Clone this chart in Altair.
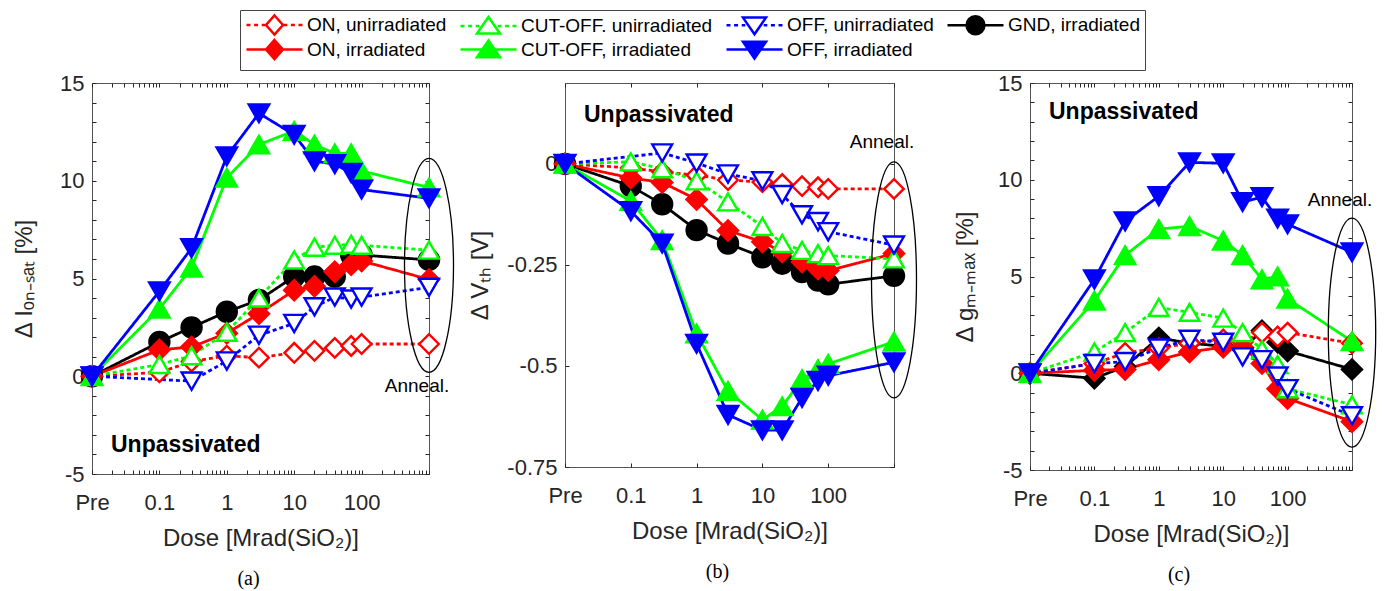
import altair as alt
import pandas as pd

FONT = "Liberation Sans, Arial, Helvetica, sans-serif"
SERIF = "Liberation Serif, Times New Roman, serif"
INK = "#262626"
RED, GREEN, BLUE, BLACK = "#ff0000", "#00ff00", "#0000ff", "#000000"

# ---------------- data ----------------
dose = [0.01, 0.1, 0.3, 1, 3, 10, 20, 40, 70, 100, 1000]   # 0.01 = "Pre", 1000 = "Anneal."
x_major = [0.01, 0.1, 1, 10, 100, 1000]
x_minor = [k * 10.0 ** d for d in range(-2, 3) for k in range(2, 10)]

legend_order = ["ON, unirradiated", "CUT-OFF. unirradiated", "OFF, unirradiated", "GND, irradiated",
                "ON, irradiated", "CUT-OFF, irradiated", "OFF, irradiated"]
draw_order = ["GND, irradiated", "ON, unirradiated", "ON, irradiated", "CUT-OFF. unirradiated",
              "CUT-OFF, irradiated", "OFF, unirradiated", "OFF, irradiated"]

ion_sat = {
    "ON, unirradiated":      [0, 0.2, 0.75, 1.05, 0.95, 1.2, 1.3, 1.45, 1.55, 1.65, 1.65],
    "ON, irradiated":        [0, 1.35, 1.5, 2.2, 3.2, 4.4, 4.6, 5.35, 5.7, 5.9, 4.95],
    "CUT-OFF. unirradiated": [0, 0.6, 1.05, 2.25, 4.0, 5.95, 6.6, 6.7, 6.75, 6.7, 6.45],
    "CUT-OFF, irradiated":   [0, 3.45, 5.55, 10.15, 11.85, 12.55, 11.85, 11.4, 11.4, 10.5, 9.65],
    "OFF, unirradiated":     [0, None, -0.25, 0.78, 2.1, 2.7, 3.55, 4.05, 3.95, 4.05, 4.55],
    "OFF, irradiated":       [0, 4.35, 6.55, 11.25, 13.45, 12.35, 11.0, 10.85, 10.4, 9.55, 9.1],
    "GND, irradiated":       [0, 1.75, 2.5, 3.3, 3.9, 5.1, 5.1, 5.1, 6.2, 6.2, 5.95],
}
vth = {
    "ON, unirradiated":      [0, -0.01, -0.02, -0.028, -0.04, -0.045, -0.05, -0.055, -0.058, -0.062, -0.062],
    "ON, irradiated":        [0, -0.035, -0.046, -0.088, -0.165, -0.193, -0.218, -0.243, -0.26, -0.264, -0.222],
    "CUT-OFF. unirradiated": [0, 0.005, -0.012, -0.042, -0.094, -0.155, -0.197, -0.214, -0.222, -0.227, -0.235],
    "CUT-OFF, irradiated":   [0, -0.092, -0.189, -0.42, -0.562, -0.633, -0.6, -0.533, -0.508, -0.495, -0.44],
    "OFF, unirradiated":     [0, None, 0.027, 0.002, -0.025, -0.042, -0.076, -0.126, -0.143, -0.168, -0.201],
    "OFF, irradiated":       [0, -0.117, -0.197, -0.445, -0.621, -0.659, -0.659, -0.579, -0.537, -0.524, -0.491],
    "GND, irradiated":       [0, -0.055, -0.1, -0.164, -0.197, -0.231, -0.247, -0.268, -0.289, -0.298, -0.277],
}
gm_max = {
    "ON, unirradiated":      [0, 0.5, 1.05, 1.3, 1.55, 1.75, 1.6, 2.1, 1.9, 2.1, 1.55],
    "ON, irradiated":        [0, 0.15, 0.2, 0.7, 1.1, 1.35, 1.35, 0.5, -0.8, -1.3, -2.5],
    "CUT-OFF. unirradiated": [0, 1.1, 2.1, 3.4, 3.15, 2.85, 2.1, 1.22, 0.45, -0.8, -1.63],
    "CUT-OFF, irradiated":   [0, 3.75, 6.1, 7.45, 7.6, 6.85, 6.1, 4.85, 5.0, 3.85, 1.65],
    "OFF, unirradiated":     [0, 0.5, 0.6, 1.3, 1.75, 1.6, 0.85, 0.7, -0.15, -0.8, -2.2],
    "OFF, irradiated":       [0, 4.85, 7.85, 9.15, 10.9, 10.85, 8.85, 9.1, 8.0, 7.7, 6.25],
    "GND, irradiated":       [0, -0.26, 0.35, 1.83, 1.55, 1.4, 1.25, 2.2, 1.6, 1.15, 0.2],
}

# annotation values (data coordinates)
ellipse_center = {"a": 5.67, "b": -0.287, "c": 2.1}
ellipse_half = {"a": 5.47, "b": 0.292, "c": 5.92}
ellipse_halfwidth_px = {"a": 24.5, "b": 22.5, "c": 23.7}
anneal_y = {"a": -0.5, "b": 0.055, "c": 8.96}
unpass_y = {"a": -3.54, "b": 0.121, "c": 13.5}

# ---------------- styles ----------------
color_scale = alt.Scale(domain=legend_order, range=[RED, GREEN, BLUE, BLACK, RED, GREEN, BLUE])
fill_scale = alt.Scale(domain=legend_order, range=["white", "white", "white", BLACK, RED, GREEN, BLUE])
dash_scale = alt.Scale(domain=legend_order, range=[[4, 3], [4, 3], [4, 3], [1, 0], [1, 0], [1, 0], [1, 0]])
size_scale = alt.Scale(domain=legend_order, range=[380, 420, 420, 280, 380, 420, 420])
shape_ab = alt.Scale(domain=legend_order, range=["diamond", "triangle-up", "triangle-down", "circle",
                                                 "diamond", "triangle-up", "triangle-down"])
shape_c = alt.Scale(domain=legend_order, range=["diamond", "triangle-up", "triangle-down", "diamond",
                                                "diamond", "triangle-up", "triangle-down"])

# legend symbols: line + marker as custom paths (unit = 8 px)
DOT = ("M-1,0L-0.5,0M-0.05,0L0.45,0M0.9,0L1.35,0"
       "M3.65,0L4.1,0M4.55,0L5.05,0M5.5,0L6,0")
SOLID = "M-1,0L6,0"
DIAM = "M2.5,-1.19L3.56,0L2.5,1.19L1.44,0Z"
TUP = "M2.5,-1.12L3.94,0.96L1.06,0.96Z"
TDN = "M2.5,1.12L3.94,-0.96L1.06,-0.96Z"
CIRC = ("M2.5,-1.12C3.12,-1.12 3.62,-0.62 3.62,0C3.62,0.62 3.12,1.12 2.5,1.12"
        "C1.88,1.12 1.38,0.62 1.38,0C1.38,-0.62 1.88,-1.12 2.5,-1.12Z")
legend_paths = [DOT + DIAM, DOT + TUP, DOT + TDN, SOLID + CIRC, SOLID + DIAM, SOLID + TUP, SOLID + TDN]


def ellipse_path(a):
    k = 0.5523
    return (f"M0,-1C{k*a:.4f},-1 {a:.4f},-{k} {a:.4f},0C{a:.4f},{k} {k*a:.4f},1 0,1"
            f"C{-k*a:.4f},1 {-a:.4f},{k} {-a:.4f},0C{-a:.4f},-{k} {-k*a:.4f},-1 0,-1Z")


def long_df(table):
    rows = []
    for s in draw_order:
        for d, v in zip(dose, table[s]):
            if v is not None:
                rows.append({"series": s, "dose": d, "value": v})
    return pd.DataFrame(rows)


XLAB = ("datum.value == 0.01 ? 'Pre' : (datum.value == 0.1 || datum.value == 1 || "
        "datum.value == 10 || datum.value == 100) ? '' + datum.value : ''")
TICK = 4


def panel(key, table, ydom, yvals, ylabexpr, ytitle, ytitle_pad, xvals, shape_scale, width, height, caption):
    df = long_df(table)
    xs = alt.Scale(type="log", domain=[0.01, 1000], nice=False)
    ys = alt.Scale(domain=ydom, nice=False, zero=False)
    ax_bottom = alt.Axis(orient="bottom", values=xvals, labelExpr=XLAB, title="Dose [Mrad(SiO₂)]",
                         grid=False, domain=False, tickSize=TICK, offset=-TICK, tickColor=INK,
                         labelFont=FONT, labelFontSize=22, labelColor=INK, labelPadding=18,
                         labelFlush=False, labelOverlap=False, titleFont=FONT, titleFontSize=24,
                         titleFontWeight="normal", titleColor=INK, titlePadding=13)
    ax_top = alt.Axis(orient="top", values=xvals, labels=False, title=None, grid=False, domain=False,
                      tickSize=TICK, offset=-TICK, tickColor=INK)
    ax_left = alt.Axis(orient="left", values=yvals, labelExpr=ylabexpr, title=ytitle, grid=False,
                       domain=False, tickSize=TICK, offset=-TICK, tickColor=INK, labelFont=FONT,
                       labelFontSize=22, labelColor=INK, labelPadding=8, labelOverlap=False,
                       labelFlush=False, titleFont=FONT, titleFontSize=24, titleFontWeight="normal",
                       titleColor=INK, titlePadding=ytitle_pad)
    ax_right = alt.Axis(orient="right", values=yvals, labels=False, title=None, grid=False,
                        domain=False, tickSize=TICK, offset=-TICK, tickColor=INK)

    base = alt.Chart(df)
    lines = base.mark_line(strokeWidth=2.8).encode(
        x=alt.X("dose:Q", scale=xs, axis=ax_bottom),
        y=alt.Y("value:Q", scale=ys, axis=ax_left),
        stroke=alt.Stroke("series:N", scale=color_scale, legend=None),
        strokeDash=alt.StrokeDash("series:N", scale=dash_scale, legend=None),
    )
    points = base.mark_point(opacity=1, strokeWidth=2.4).encode(
        x=alt.X("dose:Q", scale=xs, axis=ax_top),
        y=alt.Y("value:Q", scale=ys, axis=ax_right),
        shape=alt.Shape("series:N", scale=shape_scale, legend=None),
        fill=alt.Fill("series:N", scale=fill_scale, legend=None),
        stroke=alt.Stroke("series:N", scale=color_scale, legend=None),
        size=alt.Size("series:N", scale=size_scale, legend=None),
    )
    # ellipse around the anneal points
    px_per_unit = height / (ydom[1] - ydom[0])
    half_px = ellipse_half[key] * px_per_unit
    ell_df = pd.DataFrame({"dose": [1000], "value": [ellipse_center[key]]})
    ellipse = alt.Chart(ell_df).mark_point(
        shape=ellipse_path(ellipse_halfwidth_px[key] / half_px), size=(2 * half_px) ** 2,
        filled=False, stroke="black", strokeWidth=1.3, opacity=1,
    ).encode(x=alt.X("dose:Q", scale=xs, axis=None), y=alt.Y("value:Q", scale=ys, axis=None))

    ann_df = pd.DataFrame({"dose": [1000], "value": [anneal_y[key]], "t": ["Anneal."]})
    anneal = alt.Chart(ann_df).mark_text(font=FONT, fontSize=19, color="black", dx=-12,
                                         align="center", baseline="middle").encode(
        x=alt.X("dose:Q", scale=xs, axis=None), y=alt.Y("value:Q", scale=ys, axis=None), text="t:N")
    un_df = pd.DataFrame({"dose": [0.01], "value": [unpass_y[key]], "t": ["Unpassivated"]})
    unpass = alt.Chart(un_df).mark_text(font=FONT, fontSize=23, fontWeight="bold", color="black",
                                        dx=19, align="left", baseline="middle").encode(
        x=alt.X("dose:Q", scale=xs, axis=None), y=alt.Y("value:Q", scale=ys, axis=None), text="t:N")

    return alt.layer(lines, points, ellipse, anneal, unpass).resolve_axis(
        x="independent", y="independent"
    ).properties(
        width=width, height=height,
        title=alt.TitleParams(caption, orient="bottom", font=SERIF, fontSize=20, fontWeight="normal",
                              color="black", frame="group", dx=-12, offset=19),
    )


Y15 = "datum.value % 5 == 0 ? '' + datum.value : ''"
yv15 = list(range(-5, 16))
pa = panel("a", ion_sat, [-5, 15], yv15, Y15, "Δ Iₒₙ₋ₛₐₜ [%]", 23, x_major + x_minor, shape_ab,
           337, 391, "(a)")
pb = panel("b", vth, [-0.75, 0.2], [-0.75, -0.5, -0.25, 0], "'' + datum.value", "Δ Vₜₕ [V]", 14,
           x_major, shape_ab, 329, 384, "(b)")
pc = panel("c", gm_max, [-5, 15], yv15, Y15, "Δ gₘ₋ₘₐₓ [%]", 20, x_major + x_minor, shape_c,
           322, 387, "(c)")

row = alt.hconcat(pa, pb, pc, spacing=136, bounds="flush").resolve_scale(shape="independent")

leg = alt.Legend(title=None, orient="none", legendX=148, legendY=5, direction="horizontal", columns=4,
                 symbolSize=256, symbolStrokeWidth=2.5, labelFont=FONT, labelFontSize=19,
                 labelColor="black", labelOffset=43, labelLimit=400, columnPadding=8, rowPadding=-6,
                 padding=5, strokeColor="#444444", fillColor="white")
legend_chart = alt.Chart(pd.DataFrame({"series": legend_order})).transform_filter("false").mark_point(
    opacity=1).encode(
    shape=alt.Shape("series:N", scale=alt.Scale(domain=legend_order, range=legend_paths), legend=leg),
    fill=alt.Fill("series:N", scale=alt.Scale(domain=legend_order,
                                             range=["white", "white", "white", BLACK, RED, GREEN, BLUE]),
                  legend=leg),
    stroke=alt.Stroke("series:N", scale=alt.Scale(domain=legend_order,
                                                 range=[RED, GREEN, BLUE, BLACK, RED, GREEN, BLUE]),
                      legend=leg),
).properties(width=1, height=1, view=alt.ViewBackground(stroke=None))

chart = alt.vconcat(legend_chart, row, spacing=0).resolve_scale(
    shape="independent", fill="independent", stroke="independent"
).properties(
    padding={"left": 12, "top": 5, "right": 5, "bottom": 5}
).configure_view(stroke="#555555", strokeWidth=1)

chart.save("out.html", embed_options={"renderer": "svg", "actions": False})
